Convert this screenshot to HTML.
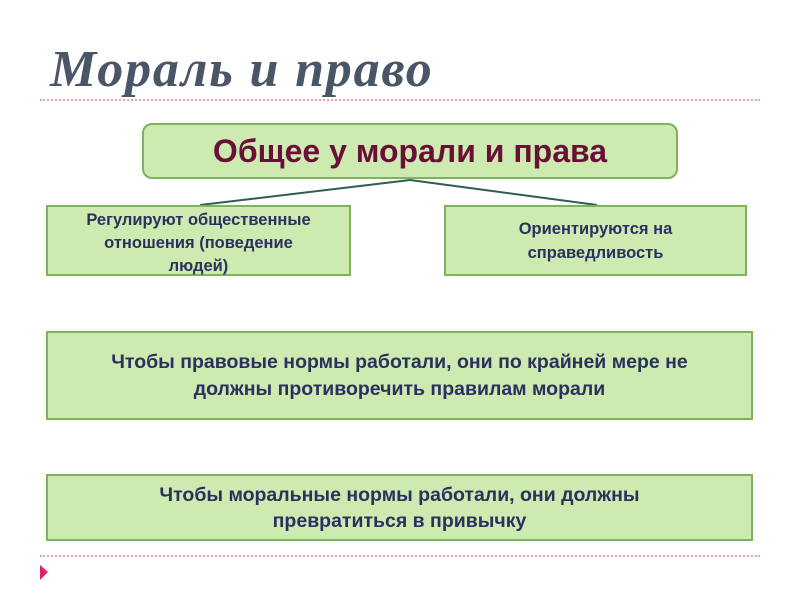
<!DOCTYPE html>
<html><head><meta charset="utf-8"><style>
body{margin:0;width:800px;height:600px;background:#fff;position:relative;overflow:hidden;font-family:"Liberation Sans","DejaVu Sans",sans-serif}
.t{position:absolute;left:50px;top:40px;font-family:"Liberation Serif","DejaVu Serif",serif;font-weight:bold;font-style:italic;font-size:52px;color:#4a5568;letter-spacing:1.8px;white-space:nowrap}
.dot{position:absolute;left:40px;width:720px;border-top:2px dotted #e8a0c0;height:0}
.b{position:absolute;background:#cdeab0;border:2px solid #7cb35c;box-sizing:border-box;display:flex;align-items:center;justify-content:center;text-align:center;color:#2a3060;font-weight:bold;white-space:nowrap}
</style></head><body>
<div class="t">Мораль и право</div>
<div class="dot" style="top:99px"></div>
<div class="b" style="left:142px;top:123px;width:536px;height:56px;border-radius:10px;color:#6a1038;font-size:32px;line-height:40px">Общее у морали и права</div>
<svg style="position:absolute;left:0;top:0" width="800" height="600"><line x1="410" y1="180" x2="200" y2="205" stroke="#2e5e4e" stroke-width="2"/><line x1="410" y1="180" x2="597" y2="205" stroke="#2e5e4e" stroke-width="2"/><polygon points="40,565 48,572 40,580" fill="#e0206a"/></svg>
<div class="b" style="left:46px;top:205px;width:305px;height:71px;font-size:16.5px;line-height:23px;padding-top:6px">Регулируют общественные<br>отношения (поведение<br>людей)</div>
<div class="b" style="left:444px;top:205px;width:303px;height:71px;font-size:16.5px;line-height:24px">Ориентируются на<br>справедливость</div>
<div class="b" style="left:46px;top:331px;width:707px;height:89px;font-size:19.5px;line-height:27px">Чтобы правовые нормы работали, они по крайней мере не<br>должны противоречить правилам морали</div>
<div class="b" style="left:46px;top:474px;width:707px;height:67px;font-size:19.5px;line-height:26px">Чтобы моральные нормы работали, они должны<br>превратиться в привычку</div>
<div class="dot" style="top:555px"></div>
</body></html>
